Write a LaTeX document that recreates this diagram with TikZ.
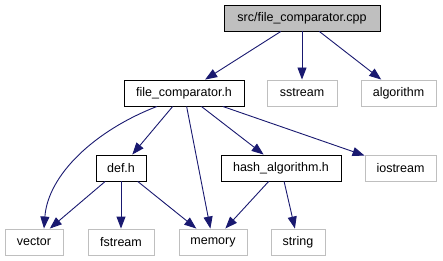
\documentclass[tikz,border=0pt]{standalone}
\usepackage{fontspec}
\setmainfont{Liberation Sans}
\usepackage{tikz}
\usetikzlibrary{arrows.meta,positioning}
\definecolor{edgeblue}{HTML}{191970}
\definecolor{boxgray}{HTML}{BFBFBF}
\tikzstyle{hdr} = [draw=black, line width=0.9pt, minimum height=26pt, inner sep=0pt, font=\fontsize{12.5}{15}\selectfont]
\tikzstyle{sys} = [hdr, draw=boxgray]
\tikzstyle{incl} = [draw=edgeblue, line width=0.9pt, ->]
\tikzset{>={Triangle[length=12pt,width=9pt]}}

\begin{document}
\begin{tikzpicture}[x=1pt,y=-1pt]
    \useasboundingbox (0,0) rectangle (443,261);
    % project files
    \node [hdr, fill=boxgray, minimum width=156pt] (cpp) at (302,18) {src/file\_comparator.cpp};
    \node [hdr, minimum width=120pt] (fch) at (184,93) {file\_comparator.h};
    \node [hdr, minimum width=50pt] (defh) at (121,168) {def.h};
    \node [hdr, minimum width=120pt] (hash) at (281,168) {hash\_algorithm.h};
    % standard headers
    \node [sys, minimum width=70pt] (sstream) at (302,93) {sstream};
    \node [sys, minimum width=75pt] (algorithm) at (398.5,93) {algorithm};
    \node [sys, minimum width=71pt] (iostream) at (400.5,168) {iostream};
    \node [sys, minimum width=58pt] (vector) at (34,242) {vector};
    \node [sys, minimum width=66pt] (fstream) at (121,242) {fstream};
    \node [sys, minimum width=68pt] (memory) at (213,242) {memory};
    \node [sys, minimum width=54pt] (string) at (298,242) {string};

    \draw [incl] (cpp) -- (fch);
    \draw [incl] (cpp) -- (sstream);
    \draw [incl] (cpp) -- (algorithm);

    \draw [incl] ([xshift=-27pt]fch.south) .. controls +(-62,24) and +(4,-54) .. ([xshift=10pt]vector.north);
    \draw [incl] (fch) -- (defh);
    \draw [incl] (fch) -- (memory);
    \draw [incl] (fch) -- (hash);
    \draw [incl] (fch) -- (iostream);

    \draw [incl] (defh) -- (vector);
    \draw [incl] (defh) -- (fstream);
    \draw [incl] (defh) -- (memory);

    \draw [incl] (hash) -- (memory);
    \draw [incl] (hash) -- (string);
\end{tikzpicture}
\end{document}
